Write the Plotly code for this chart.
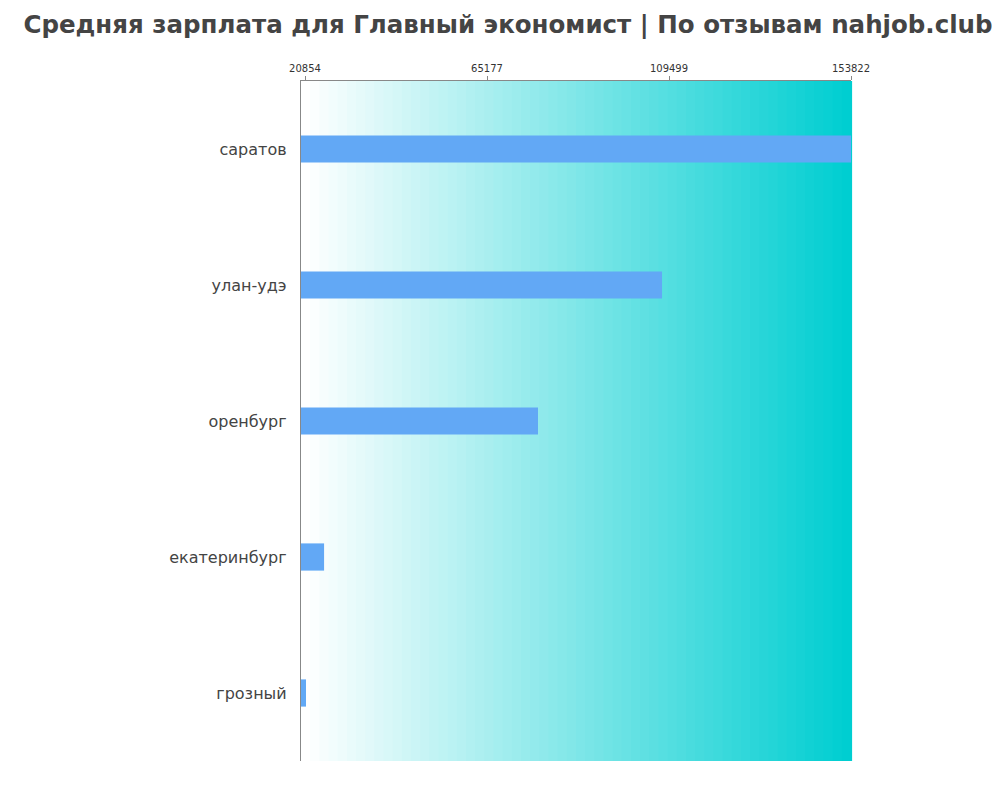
import plotly.graph_objects as go

cities = ["саратов", "улан-удэ", "оренбург", "екатеринбург", "грозный"]
salaries = [153822, 107800, 77600, 25500, 21100]
tick_vals = [20854, 65177, 109499, 153822]
x_min = 19880

fig = go.Figure()
fig.add_trace(go.Bar(
    y=cities, x=[s - x_min for s in salaries], base=x_min, orientation="h",
    marker=dict(color="#62A8F5", line_width=0), width=0.2,
))

n = 60
shapes = []
def lerp(a, b, t):
    return int(round(a + (b - a) * t))
for i in range(n):
    t = i / (n - 1)
    c = f"rgb({lerp(255,0,t)},{lerp(255,206,t)},{lerp(255,209,t)})"
    shapes.append(dict(type="rect", xref="paper", yref="paper", x0=i / n, x1=(i + 1) / n + 0.002,
                       y0=0, y1=1, fillcolor=c, line_width=0, layer="below"))

fig.update_layout(
    width=1000, height=800,
    margin=dict(l=293, r=157, t=73, b=47),
    paper_bgcolor="white", plot_bgcolor="white",
    shapes=shapes,
    showlegend=False,
    title=dict(text="<b>Средняя зарплата для Главный экономист | По отзывам nahjob.club</b>",
               x=0.5, xanchor="center", y=0.99, yanchor="top",
               font=dict(family="DejaVu Sans", size=24.5, color="#444")),
    xaxis=dict(side="top", range=[x_min, 153822], tickvals=tick_vals,
               ticktext=[str(v) for v in tick_vals], showgrid=False, zeroline=False,
               ticks="outside", ticklen=4, tickcolor="#888",
               tickfont=dict(family="DejaVu Sans", size=10, color="#333"),
               showline=True, linecolor="#888"),
    yaxis=dict(autorange="reversed", showgrid=False, showline=True, linecolor="#888",
               tickfont=dict(family="DejaVu Sans", size=16, color="#444"), ticksuffix="  "),
)
fig.write_html("out.html")
